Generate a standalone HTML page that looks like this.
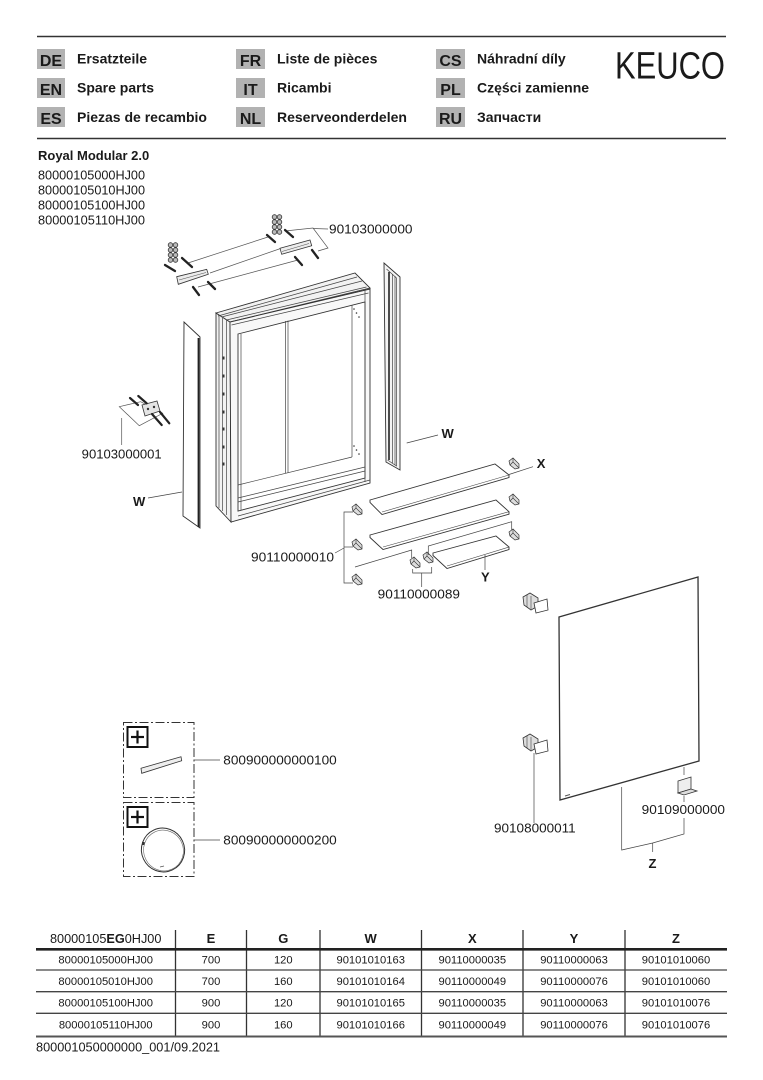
<!DOCTYPE html>
<html><head><meta charset="utf-8"><style>
html,body{margin:0;padding:0;background:#fff;}
svg{display:block;}
text{font-family:"Liberation Sans",Arial,sans-serif;fill:#1a1a1a;}
.b{font-weight:bold;}
</style></head><body>
<svg width="763" height="1080" viewBox="0 0 763 1080" xmlns="http://www.w3.org/2000/svg">
<!-- Header lines -->
<line x1="37" y1="36.5" x2="726" y2="36.5" stroke="#333" stroke-width="1.6"/>
<line x1="37" y1="138.5" x2="726" y2="138.5" stroke="#333" stroke-width="1.6"/>

<!-- Badges -->
<g fill="#b2b2b2">
<rect x="37" y="49" width="28" height="20"/><rect x="37" y="78" width="28" height="20"/><rect x="37" y="107" width="28" height="20"/>
<rect x="236" y="49" width="29" height="20"/><rect x="236" y="78" width="29" height="20"/><rect x="236" y="107" width="29" height="20"/>
<rect x="436" y="49" width="29" height="20"/><rect x="436" y="78" width="29" height="20"/><rect x="436" y="107" width="29" height="20"/>
</g>
<g class="b" font-size="16" text-anchor="middle">
<text x="51" y="66" class="b">DE</text><text x="51" y="95" class="b">EN</text><text x="51" y="124" class="b">ES</text>
<text x="250.5" y="66" class="b">FR</text><text x="250.5" y="95" class="b">IT</text><text x="250.5" y="124" class="b">NL</text>
<text x="450.5" y="66" class="b">CS</text><text x="450.5" y="95" class="b">PL</text><text x="450.5" y="124" class="b">RU</text>
</g>
<g font-size="14">
<text x="77" y="63.5" class="b">Ersatzteile</text>
<text x="77" y="92.7" class="b">Spare parts</text>
<text x="77" y="121.8" class="b">Piezas de recambio</text>
<text x="277" y="63.5" class="b">Liste de pièces</text>
<text x="277" y="92.7" class="b">Ricambi</text>
<text x="277" y="121.8" class="b">Reserveonderdelen</text>
<text x="477" y="63.5" class="b">Náhradní díly</text>
<text x="477" y="92.7" class="b">Części zamienne</text>
<text x="477" y="121.8" class="b">Запчасти</text>
</g>
<text x="615" y="78.5" font-size="38" textLength="110" lengthAdjust="spacingAndGlyphs">KEUCO</text>

<!-- Title -->
<text x="38" y="160" font-size="13" class="b">Royal Modular 2.0</text>
<g font-size="12.6">
<text x="38" y="179.5" textLength="107" lengthAdjust="spacingAndGlyphs">80000105000HJ00</text>
<text x="38" y="194.5" textLength="107" lengthAdjust="spacingAndGlyphs">80000105010HJ00</text>
<text x="38" y="209.5" textLength="107" lengthAdjust="spacingAndGlyphs">80000105100HJ00</text>
<text x="38" y="224.5" textLength="107" lengthAdjust="spacingAndGlyphs">80000105110HJ00</text>
</g>

<!-- ===== Top brackets ===== -->
<g stroke="#555" stroke-width="0.7" fill="none">
 <line x1="188" y1="263" x2="268" y2="237"/>
 <line x1="210" y1="273" x2="282" y2="248"/>
 <line x1="198" y1="287" x2="298" y2="260"/>
 <polyline points="285,231 313,228 328,248 318,251"/>
 <line x1="313" y1="228.5" x2="328" y2="229"/>
</g>
<g stroke="#333" stroke-width="0.8" fill="#ececec">
 <polygon points="176.7,276.7 206.7,269.3 208.3,274.3 178.3,284.3"/>
 <polygon points="280,248.3 310,240 311.7,245.7 281.7,254.3"/>
</g>
<g stroke="#555" stroke-width="0.6">
 <line x1="179" y1="280" x2="206" y2="272.5"/>
 <line x1="282" y1="251.5" x2="309" y2="243.5"/>
</g>
<g stroke="#333" stroke-width="0.8" fill="#bbb">
 <circle cx="170.5" cy="245" r="2.3"/><circle cx="175.5" cy="245" r="2.3"/>
 <circle cx="170.5" cy="250" r="2.3"/><circle cx="175.5" cy="250" r="2.3"/>
 <circle cx="170.5" cy="255" r="2.3"/><circle cx="175.5" cy="255" r="2.3"/>
 <circle cx="170.5" cy="260" r="2.3"/><circle cx="175.5" cy="260" r="2.3"/>
 <circle cx="274.5" cy="217" r="2.3"/><circle cx="279.5" cy="217" r="2.3"/>
 <circle cx="274.5" cy="222" r="2.3"/><circle cx="279.5" cy="222" r="2.3"/>
 <circle cx="274.5" cy="227" r="2.3"/><circle cx="279.5" cy="227" r="2.3"/>
 <circle cx="274.5" cy="232" r="2.3"/><circle cx="279.5" cy="232" r="2.3"/>
</g>
<g stroke="#222" stroke-width="2.3" stroke-linecap="round">
 <line x1="165" y1="265" x2="175" y2="271"/>
 <line x1="182" y1="258" x2="192" y2="267"/>
 <line x1="193" y1="287" x2="199" y2="295"/>
 <line x1="208" y1="282" x2="215" y2="289"/>
 <line x1="267" y1="235" x2="275" y2="242"/>
 <line x1="285" y1="230" x2="293" y2="237"/>
 <line x1="295" y1="257" x2="302" y2="265"/>
 <line x1="312" y1="250" x2="318" y2="258"/>
</g>
<text x="329" y="233.5" font-size="13" textLength="83.5" lengthAdjust="spacingAndGlyphs">90103000000</text>

<!-- ===== Cabinet ===== -->
<g stroke="#333" stroke-width="0.9">
 <!-- left side depth -->
 <polygon points="216,313 230,322 231,522 216,506" fill="#f2f2f2"/>
 <!-- top surface -->
 <polygon points="216,313 355,273 370,288 230,322" fill="#f2f2f2"/>
 <!-- front frame -->
 <polygon points="230,322 370,289 370,483 231,522" fill="#f8f8f8"/>
 <!-- opening -->
 <polygon points="238,334 365,302 365,478 238,511" fill="#fff"/>
</g>
<g stroke="#444" stroke-width="0.7" fill="none">
 <line x1="218" y1="316" x2="357" y2="277"/>
 <line x1="221.5" y1="317" x2="362" y2="281"/>
 <line x1="226.5" y1="320" x2="366.5" y2="287"/>
 <line x1="231.5" y1="325" x2="368.5" y2="293"/>
 <line x1="219" y1="316" x2="219" y2="508"/>
 <line x1="222.5" y1="318" x2="222.5" y2="511"/>
 <line x1="226.5" y1="320" x2="226.5" y2="515"/>
 <line x1="241" y1="334" x2="241" y2="510"/>
 <line x1="352" y1="305" x2="352" y2="457"/>
 <line x1="285.5" y1="321" x2="285.5" y2="473"/>
 <line x1="288" y1="320.5" x2="288" y2="472.5"/>
 <line x1="238" y1="485" x2="352" y2="457"/>
 <line x1="238" y1="498" x2="365" y2="467"/>
 <line x1="238" y1="502" x2="365" y2="471"/>
 <line x1="238" y1="516" x2="370" y2="480"/>
 <line x1="365" y1="289" x2="365" y2="482"/>
</g>
<g fill="#333">
 <rect x="222.5" y="356.5" width="2" height="3"/><rect x="222.5" y="374.5" width="2" height="3"/>
 <rect x="222.5" y="392.5" width="2" height="3"/><rect x="222.5" y="410.5" width="2" height="3"/>
 <rect x="222.5" y="427.5" width="2" height="3"/><rect x="222.5" y="445.5" width="2" height="3"/>
 <rect x="222.5" y="462.5" width="2" height="3"/>
 <circle cx="354" cy="309" r="0.8"/><circle cx="356.5" cy="313" r="0.8"/><circle cx="359" cy="317" r="0.8"/>
 <circle cx="354" cy="446" r="0.8"/><circle cx="356.5" cy="450" r="0.8"/><circle cx="359" cy="454" r="0.8"/>
</g>

<!-- Left W panel -->
<polygon points="184,322 200,337 200,528 183,516" fill="#fff" stroke="#333" stroke-width="0.9"/>
<line x1="198.5" y1="338" x2="198.5" y2="527" stroke="#222" stroke-width="1.8"/>
<line x1="148" y1="498" x2="182" y2="492" stroke="#444" stroke-width="0.7"/>
<text x="133" y="506" font-size="13" class="b">W</text>

<!-- Right W panel -->
<polygon points="384,263 400,277 400,470 386,462" fill="#f4f4f4" stroke="#333" stroke-width="0.9"/>
<g stroke="#444" stroke-width="0.7" fill="none">
 <polyline points="386.5,269 396.5,278 396.5,466 387.5,460"/>
 <line x1="392.5" y1="274" x2="392.5" y2="463"/>
 <line x1="395" y1="276" x2="395" y2="465"/>
</g>
<line x1="389" y1="272" x2="389" y2="460" stroke="#222" stroke-width="1.6"/>
<line x1="406.7" y1="443" x2="438" y2="435" stroke="#444" stroke-width="0.7"/>
<text x="441.5" y="438" font-size="13" class="b">W</text>

<!-- 90103000001 fitting -->
<g stroke="#555" stroke-width="0.7" fill="none">
 <polygon points="119.3,406.7 140.7,401.7 162.7,413.3 139.3,425.7"/>
 <line x1="121.7" y1="418" x2="121.7" y2="445"/>
</g>
<polygon points="142,405 157,401 160,411 145,416" fill="#e4e4e4" stroke="#333" stroke-width="0.8"/>
<circle cx="148" cy="409" r="1.2" fill="#333"/><circle cx="154" cy="407" r="1.2" fill="#333"/>
<g stroke="#222" stroke-width="2.2" stroke-linecap="round">
 <line x1="130" y1="398" x2="138" y2="405"/>
 <line x1="138.3" y1="396" x2="146.7" y2="403.3"/>
 <line x1="152" y1="414" x2="161.7" y2="425"/>
 <line x1="160" y1="412" x2="169.3" y2="423.3"/>
</g>
<text x="81.7" y="458.5" font-size="13" textLength="80" lengthAdjust="spacingAndGlyphs">90103000001</text>

<!-- ===== Shelves ===== -->
<g stroke="#333" stroke-width="0.9" fill="#fff">
 <polygon points="370,500 495,464 509,475 509,477.5 382,514.5 370,502.5"/>
 <polygon points="370,535 496,500 509,511.7 509,514.2 383,549.5 370,537.5"/>
 <polygon points="433,553 496,536 509,547 509,549.5 447,568.5 433,555.5"/>
</g>
<g stroke="#444" stroke-width="0.6">
 <line x1="382" y1="512" x2="509" y2="475"/>
 <line x1="383" y1="547" x2="509" y2="511.7"/>
 <line x1="447" y1="566" x2="509" y2="547"/>
</g>

<!-- clips -->
<defs>
 <g id="clip">
  <polygon points="0,3 4,0 10,6 10,10 6,11 1,7" fill="#ddd" stroke="#333" stroke-width="0.7"/>
  <polyline points="4,0 4,4 10,10" fill="none" stroke="#333" stroke-width="0.6"/>
  <line x1="1" y1="7" x2="4" y2="4" stroke="#333" stroke-width="0.6"/>
 </g>
 <g id="mclip">
  <polygon points="0,4 7,0 15,5 15,13 8,17 1,12" fill="#ddd" stroke="#333" stroke-width="0.8"/>
  <line x1="4" y1="2" x2="4" y2="14" stroke="#444" stroke-width="0.6"/>
  <line x1="8" y1="3" x2="8" y2="16" stroke="#444" stroke-width="0.6"/>
  <polygon points="11,10 24,6 25,17 13,20" fill="#fff" stroke="#333" stroke-width="0.8"/>
 </g>
</defs>
<use href="#clip" x="509" y="458"/>
<use href="#clip" x="509" y="494"/>
<use href="#clip" x="509" y="529"/>
<use href="#clip" x="352" y="504"/>
<use href="#clip" x="352" y="539"/>
<use href="#clip" x="352" y="574"/>
<use href="#clip" x="410" y="557"/>
<use href="#clip" x="423" y="552"/>

<g stroke="#444" stroke-width="0.7" fill="none">
 <polyline points="353,512 344,512 344,583 353,583"/>
 <line x1="344" y1="547" x2="353" y2="547"/>
 <line x1="335" y1="553" x2="344" y2="548"/>
 <polyline points="355,567 411.7,550 411.7,558"/>
 <polyline points="428.3,555 428.3,546 511.7,521.7 511.7,530"/>
 <polyline points="412.7,569 412.7,573 431.7,573 431.7,567"/>
 <line x1="421.7" y1="573" x2="421.7" y2="587"/>
 <line x1="509" y1="474.5" x2="533" y2="466.7"/>
 <line x1="485" y1="555" x2="485" y2="570"/>
</g>
<text x="536.7" y="468" font-size="13" class="b">X</text>
<text x="481" y="581.5" font-size="13" class="b">Y</text>
<text x="251" y="561.5" font-size="13" textLength="83" lengthAdjust="spacingAndGlyphs">90110000010</text>
<text x="377.7" y="598.5" font-size="13" textLength="82.3" lengthAdjust="spacingAndGlyphs">90110000089</text>

<!-- ===== Mirror ===== -->
<polygon points="559,617 698,577 699,761 560,800" fill="#fff" stroke="#333" stroke-width="1.3"/>
<line x1="565" y1="796" x2="570" y2="794.5" stroke="#555" stroke-width="1"/>
<use href="#mclip" x="523" y="593"/>
<use href="#mclip" x="523" y="734"/>
<!-- bottom holder -->
<polygon points="678,781 691,777 691,789 678,793" fill="#eee" stroke="#333" stroke-width="0.8"/>
<polygon points="678,793 691,789 697,791 684,795" fill="#ddd" stroke="#333" stroke-width="0.8"/>
<g stroke="#444" stroke-width="0.7" fill="none">
 <line x1="534" y1="753" x2="534" y2="823"/>
 <line x1="684" y1="767" x2="684" y2="775"/>
 <line x1="684" y1="796" x2="684" y2="802"/>
 <polyline points="621.7,787 621.7,850 652.7,843 684,834 684,818"/>
 <line x1="652.7" y1="843" x2="652.7" y2="852"/>
</g>
<text x="494" y="832.5" font-size="13" textLength="81.7" lengthAdjust="spacingAndGlyphs">90108000011</text>
<text x="641.7" y="814" font-size="13" textLength="83.3" lengthAdjust="spacingAndGlyphs">90109000000</text>
<text x="648.5" y="868" font-size="13" class="b">Z</text>

<!-- ===== Accessory boxes ===== -->
<g stroke="#333" stroke-width="1" fill="none" stroke-dasharray="9,2.5,2,2.5">
 <rect x="123.5" y="722.5" width="70.5" height="75"/>
 <rect x="123.5" y="802.5" width="70.5" height="74"/>
</g>
<g stroke="#111" stroke-width="2" fill="#fff">
 <rect x="127.5" y="727" width="20" height="20"/>
 <rect x="127.5" y="807" width="20" height="20"/>
</g>
<g stroke="#111" stroke-width="2.2">
 <line x1="131" y1="737" x2="144" y2="737"/><line x1="137.5" y1="730.5" x2="137.5" y2="743.5"/>
 <line x1="131" y1="817" x2="144" y2="817"/><line x1="137.5" y1="810.5" x2="137.5" y2="823.5"/>
</g>
<polygon points="141,768.3 181,756.7 181.7,760.7 141.7,773.3" fill="#eee" stroke="#333" stroke-width="0.8"/>
<ellipse cx="163" cy="850" rx="21.5" ry="22" transform="rotate(-25 163 850)" fill="#fff" stroke="#333" stroke-width="1"/>
<ellipse cx="163.5" cy="850.5" rx="19.8" ry="20.5" transform="rotate(-25 163.5 850.5)" fill="none" stroke="#666" stroke-width="0.6"/>
<rect x="142" y="842" width="2.5" height="3" fill="#333"/>
<line x1="160" y1="867" x2="164" y2="866" stroke="#555" stroke-width="0.8"/>
<g stroke="#444" stroke-width="0.8">
 <line x1="194" y1="760" x2="220" y2="760"/>
 <line x1="194" y1="840" x2="220" y2="840"/>
</g>
<text x="223.3" y="764.5" font-size="13" textLength="113.4" lengthAdjust="spacingAndGlyphs">800900000000100</text>
<text x="223.3" y="844.5" font-size="13" textLength="113.4" lengthAdjust="spacingAndGlyphs">800900000000200</text>

<!-- ===== Table ===== -->
<g stroke="#333" stroke-width="1.3">
 <line x1="175.5" y1="930" x2="175.5" y2="1036"/>
 <line x1="246.5" y1="930" x2="246.5" y2="1036"/>
 <line x1="320" y1="930" x2="320" y2="1036"/>
 <line x1="421.5" y1="930" x2="421.5" y2="1036"/>
 <line x1="523" y1="930" x2="523" y2="1036"/>
 <line x1="625" y1="930" x2="625" y2="1036"/>
</g>
<line x1="36" y1="949.3" x2="727" y2="949.3" stroke="#222" stroke-width="2.6"/>
<g stroke="#444" stroke-width="1.3">
 <line x1="36" y1="970" x2="727" y2="970"/>
 <line x1="36" y1="991.7" x2="727" y2="991.7"/>
 <line x1="36" y1="1013.3" x2="727" y2="1013.3"/>
</g>
<line x1="36" y1="1036.5" x2="727" y2="1036.5" stroke="#555" stroke-width="2"/>

<text x="105.7" y="943" font-size="12.7" text-anchor="middle">80000105<tspan class="b">EG</tspan>0HJ00</text>
<g font-size="13" class="b" text-anchor="middle">
 <text x="211" y="943" class="b">E</text>
 <text x="283.3" y="943" class="b">G</text>
 <text x="370.7" y="943" class="b">W</text>
 <text x="472.3" y="943" class="b">X</text>
 <text x="574" y="943" class="b">Y</text>
 <text x="676" y="943" class="b">Z</text>
</g>
<g font-size="11.2" text-anchor="middle">
 <text x="105.7" y="963.3">80000105000HJ00</text>
 <text x="211" y="963.3">700</text>
 <text x="283.3" y="963.3">120</text>
 <text x="370.7" y="963.3">90101010163</text>
 <text x="472.3" y="963.3">90110000035</text>
 <text x="574" y="963.3">90110000063</text>
 <text x="676" y="963.3">90101010060</text>

 <text x="105.7" y="985">80000105010HJ00</text>
 <text x="211" y="985">700</text>
 <text x="283.3" y="985">160</text>
 <text x="370.7" y="985">90101010164</text>
 <text x="472.3" y="985">90110000049</text>
 <text x="574" y="985">90110000076</text>
 <text x="676" y="985">90101010060</text>

 <text x="105.7" y="1006.5">80000105100HJ00</text>
 <text x="211" y="1006.5">900</text>
 <text x="283.3" y="1006.5">120</text>
 <text x="370.7" y="1006.5">90101010165</text>
 <text x="472.3" y="1006.5">90110000035</text>
 <text x="574" y="1006.5">90110000063</text>
 <text x="676" y="1006.5">90101010076</text>

 <text x="105.7" y="1028.3">80000105110HJ00</text>
 <text x="211" y="1028.3">900</text>
 <text x="283.3" y="1028.3">160</text>
 <text x="370.7" y="1028.3">90101010166</text>
 <text x="472.3" y="1028.3">90110000049</text>
 <text x="574" y="1028.3">90110000076</text>
 <text x="676" y="1028.3">90101010076</text>
</g>
<text x="36" y="1051.5" font-size="12.5" textLength="184" lengthAdjust="spacingAndGlyphs">800001050000000_001/09.2021</text>
</svg>
</body></html>
